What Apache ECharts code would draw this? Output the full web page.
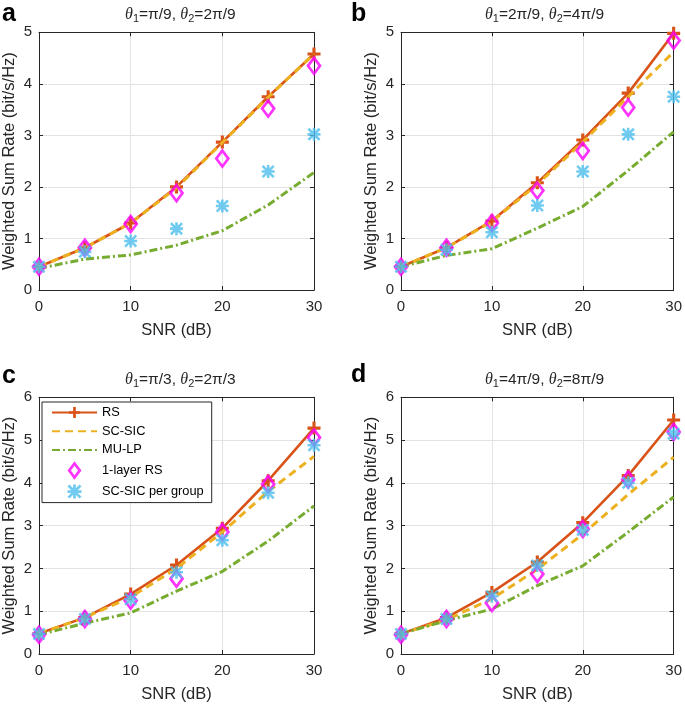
<!DOCTYPE html>
<html><head><meta charset="utf-8">
<script src="https://cdn.jsdelivr.net/npm/echarts@6/dist/echarts.min.js"></script>
<style>html,body{margin:0;padding:0;background:#fff}#c{width:685px;height:704px}</style>
</head><body><div id="c"></div>
<script>
const snr = [0, 5, 10, 15, 20, 25, 30];
const seriesNames = ['RS', 'SC-SIC', 'MU-LP', '1-layer RS', 'SC-SIC per group'];
const xTicks = [0, 10, 20, 30];

// Panel a: θ1=π/9, θ2=2π/9
const rsA       = [0.45, 0.82, 1.30, 2.00, 2.87, 3.75, 4.58];
const scsicA    = [0.45, 0.82, 1.30, 1.98, 2.86, 3.74, 4.58];
const mulpA     = [0.42, 0.60, 0.68, 0.87, 1.15, 1.65, 2.28];
const oneLayerA = [0.45, 0.82, 1.28, 1.88, 2.55, 3.52, 4.35];
const perGroupA = [0.45, 0.74, 0.95, 1.19, 1.63, 2.30, 3.02];
// Panel b: θ1=2π/9, θ2=4π/9
const rsB       = [0.45, 0.82, 1.34, 2.08, 2.91, 3.82, 4.98];
const scsicB    = [0.45, 0.82, 1.33, 2.05, 2.87, 3.75, 4.62];
const mulpB     = [0.45, 0.67, 0.80, 1.20, 1.62, 2.32, 3.07];
const oneLayerB = [0.45, 0.82, 1.30, 1.93, 2.70, 3.54, 4.84];
const perGroupB = [0.45, 0.78, 1.12, 1.64, 2.30, 3.02, 3.75];
// Panel c: θ1=π/3, θ2=2π/3
const rsC       = [0.48, 0.85, 1.40, 2.08, 2.94, 4.05, 5.28];
const scsicC    = [0.48, 0.85, 1.33, 2.00, 2.85, 3.80, 4.62];
const mulpC     = [0.45, 0.72, 0.96, 1.47, 1.93, 2.64, 3.46];
const oneLayerC = [0.45, 0.82, 1.25, 1.76, 2.85, 3.97, 5.06];
const perGroupC = [0.47, 0.82, 1.28, 1.91, 2.66, 3.77, 4.88];
// Panel d: θ1=4π/9, θ2=8π/9
const rsD       = [0.47, 0.85, 1.44, 2.15, 3.07, 4.17, 5.47];
const scsicD    = [0.47, 0.80, 1.29, 1.98, 2.80, 3.73, 4.60];
const mulpD     = [0.47, 0.78, 1.05, 1.60, 2.06, 2.85, 3.67];
const oneLayerD = [0.45, 0.82, 1.19, 1.87, 2.92, 4.08, 5.19];
const perGroupD = [0.47, 0.82, 1.35, 2.07, 2.90, 4.00, 5.15];

const panelLetters = ['a', 'b', 'c', 'd'];
const panelTitles = [['π/9', '2π/9'], ['2π/9', '4π/9'], ['π/3', '2π/3'], ['4π/9', '8π/9']];
const yMax = [5, 5, 6, 6];
const panelData = [
  [rsA, scsicA, mulpA, oneLayerA, perGroupA],
  [rsB, scsicB, mulpB, oneLayerB, perGroupB],
  [rsC, scsicC, mulpC, oneLayerC, perGroupC],
  [rsD, scsicD, mulpD, oneLayerD, perGroupD]
];

const grids = [
  {left: 36.7, top: 32.3, width: 277.3, height: 257.7},
  {left: 401, top: 32.3, width: 277, height: 257.7},
  {left: 36.7, top: 397.3, width: 277.3, height: 258},
  {left: 401, top: 397.3, width: 277, height: 258}
];
const letterPos = [[2, 2], [351, 2], [2, 364], [351, 363]];

const FONT = 'Liberation Sans, Arial, Helvetica, sans-serif';
const AX = '#262626';
const colors = {rs: '#D95319', sc: '#EDB120', mu: '#77AC30', one: '#FF00FF', grp: '#4DBEEE'};
const plusPath = 'path://M3.8,0h2.4v3.8h3.8v2.4h-3.8v3.8h-2.4v-3.8h-3.8v-2.4h3.8z';
const diamondPath = 'path://M6,0L12,8L6,16L0,8z';
const starPath = 'path://M8,0h4v20h-4zM0,8h20v4h-20zM2.8,0L20,17.2L17.2,20L0,2.8zM17.2,0L20,2.8L2.8,20L0,17.2z';

const option = {
  backgroundColor: '#fff',
  animation: false,
  textStyle: {fontFamily: FONT},
  grid: [], xAxis: [], yAxis: [], series: [], title: [], graphic: []
};

grids.forEach((g, p) => {
  option.grid.push(Object.assign({containLabel: false, show: true, backgroundColor: '#fff', borderWidth: 0}, g));
  const tick = {show: true, inside: true, length: 4, lineStyle: {color: AX, width: 1}};
  option.xAxis.push({
    type: 'value', gridIndex: p, min: 0, max: 30, interval: 10, position: 'bottom',
    name: 'SNR (dB)', nameLocation: 'middle', nameGap: 32,
    nameTextStyle: {fontSize: 16.5, color: AX, fontFamily: FONT},
    axisLine: {show: true, onZero: false, lineStyle: {color: AX, width: 1}},
    axisTick: tick,
    axisLabel: {fontSize: 15, color: AX, margin: 9, fontFamily: FONT},
    splitLine: {show: true, lineStyle: {color: '#e3e3e3', width: 1}}
  });
  option.xAxis.push({
    type: 'value', gridIndex: p, min: 0, max: 30, interval: 10, position: 'top',
    axisLine: {show: true, onZero: false, lineStyle: {color: AX, width: 1}},
    axisTick: tick, axisLabel: {show: false}, splitLine: {show: false}
  });
  option.yAxis.push({
    type: 'value', gridIndex: p, min: 0, max: yMax[p], interval: 1, position: 'left',
    name: 'Weighted Sum Rate (bit/s/Hz)', nameLocation: 'middle', nameGap: 21,
    nameTextStyle: {fontSize: 16.5, color: AX, fontFamily: FONT},
    axisLine: {show: true, onZero: false, lineStyle: {color: AX, width: 1}},
    axisTick: tick,
    axisLabel: {fontSize: 15, color: AX, margin: 7, fontFamily: FONT},
    splitLine: {show: true, lineStyle: {color: '#e3e3e3', width: 1}}
  });
  option.yAxis.push({
    type: 'value', gridIndex: p, min: 0, max: yMax[p], interval: 1, position: 'right',
    axisLine: {show: true, onZero: false, lineStyle: {color: AX, width: 1}},
    axisTick: tick, axisLabel: {show: false}, splitLine: {show: false}
  });

  const d = panelData[p];
  const xi = p * 2, yi = p * 2;
  const pts = arr => snr.map((x, i) => [x, arr[i]]);
  option.series.push({
    name: seriesNames[0], type: 'line', xAxisIndex: xi, yAxisIndex: yi, data: pts(d[0]),
    symbol: plusPath, symbolSize: 13, showSymbol: true, clip: false,
    lineStyle: {color: colors.rs, width: 2.6, type: 'solid'},
    itemStyle: {color: colors.rs}, z: 2
  });
  option.series.push({
    name: seriesNames[1], type: 'line', xAxisIndex: xi, yAxisIndex: yi, data: pts(d[1]),
    symbol: 'none', clip: false,
    lineStyle: {color: colors.sc, width: 3, type: [8, 5]},
    itemStyle: {color: colors.sc}, z: 3
  });
  option.series.push({
    name: seriesNames[2], type: 'line', xAxisIndex: xi, yAxisIndex: yi, data: pts(d[2]),
    symbol: 'none', clip: false,
    lineStyle: {color: colors.mu, width: 3, type: [8, 3, 2, 3]},
    itemStyle: {color: colors.mu}, z: 3
  });
  option.series.push({
    name: seriesNames[3], type: 'scatter', xAxisIndex: xi, yAxisIndex: yi, data: pts(d[3]),
    symbol: diamondPath, symbolSize: [12, 16], clip: false,
    itemStyle: {color: 'rgba(255,255,255,0)', borderColor: colors.one, borderWidth: 2.8}, z: 4
  });
  option.series.push({
    name: seriesNames[4], type: 'scatter', xAxisIndex: xi, yAxisIndex: yi, data: pts(d[4]),
    symbol: starPath, symbolSize: 13, clip: false,
    itemStyle: {color: colors.grp}, z: 5
  });

  const t = panelTitles[p];
  option.title.push({
    text: '{i|θ}{s|1}{n|=' + t[0] + ', }{i|θ}{s|2}{n|=' + t[1] + '}',
    left: g.left + g.width / 2, top: g.top - 33, textAlign: 'center',
    textStyle: {
      fontWeight: 'normal',
      rich: {
        i: {fontFamily: 'Liberation Serif, DejaVu Serif, serif', fontStyle: 'italic', fontWeight: 'normal', fontSize: 16, color: AX, lineHeight: 20, verticalAlign: 'middle'},
        s: {fontFamily: FONT, fontSize: 11, fontWeight: 'normal', color: AX, lineHeight: 10, verticalAlign: 'bottom'},
        n: {fontFamily: FONT, fontSize: 15.5, fontWeight: 'normal', color: AX, lineHeight: 20, verticalAlign: 'middle'}
      }
    }
  });
  option.graphic.push({
    type: 'text', left: letterPos[p][0], top: letterPos[p][1],
    style: {text: panelLetters[p], font: 'bold 25px ' + FONT, fill: '#000'}
  });
});

option.legend = {
  show: true, orient: 'vertical', left: 42, top: 402,
  data: [
    {name: 'RS'},
    {name: 'SC-SIC', itemStyle: {opacity: 0}},
    {name: 'MU-LP', itemStyle: {opacity: 0}},
    {name: '1-layer RS', itemStyle: {color: 'rgba(255,255,255,0)', borderColor: colors.one, borderWidth: 2.8}},
    {name: 'SC-SIC per group'}
  ],
  itemWidth: 45, itemHeight: 14, itemGap: 5.7,
  padding: [4, 8, 4, 9],
  backgroundColor: '#fff', borderColor: AX, borderWidth: 1, borderRadius: 0,
  textStyle: {fontSize: 12.8, color: '#000', fontFamily: FONT},
  z: 10
};

const chart = echarts.init(document.getElementById('c'), null, {renderer: 'canvas'});
chart.setOption(option);
</script>
</body></html>
